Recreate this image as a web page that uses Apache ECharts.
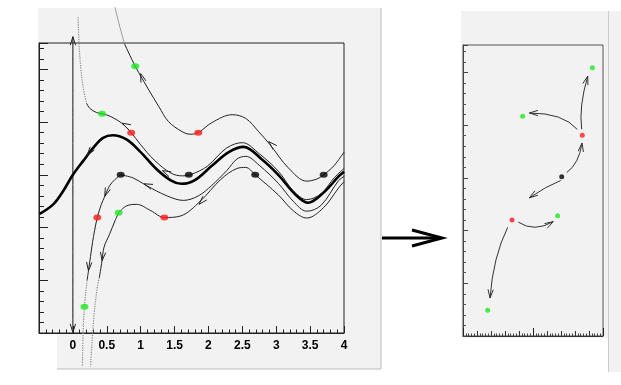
<!DOCTYPE html>
<html>
<head>
<meta charset="utf-8">
<script src="https://cdn.jsdelivr.net/npm/echarts@6/dist/echarts.min.js"></script>
<style>
html,body{margin:0;padding:0;background:#fff;}
#main{width:621px;height:385px;}
</style>
</head>
<body>
<div id="main"></div>
<script>
// left panel: solution curves, [x, y]
var thickCurve = [[-0.49,-0.74],[-0.29,-0.56],[-0.145,-0.31],[0,0],[0.15,0.26],[0.3,0.51],[0.445,0.7],[0.59,0.75],[0.79,0.67],[0.985,0.45],[1.24,0.1],[1.45,-0.11],[1.6,-0.17],[1.8,-0.1],[2.05,0.17],[2.3,0.43],[2.52,0.53],[2.79,0.29],[3.03,0],[3.28,-0.37],[3.47,-0.53],[3.72,-0.31],[3.92,-0.03],[4.0,0.06]];
var topCurveFaint = [[0.62,3.18],[0.69,2.82],[0.76,2.49]];
var topCurve = [[0.76,2.49],[0.92,2.06],[1.12,1.61],[1.27,1.29],[1.41,1.01],[1.61,0.82],[1.73,0.77],[1.85,0.8],[2.05,0.99],[2.35,1.14],[2.55,1.07],[2.74,0.82],[2.91,0.57],[3.18,0.13],[3.45,-0.12],[3.6,-0.08],[3.7,0],[3.85,0.17],[4.0,0.43]];
var upperCurveDotted = [[0.077,2.99],[0.09,2.49],[0.115,2.05],[0.15,1.67],[0.2,1.36]];
var upperCurve = [[0.2,1.36],[0.25,1.26],[0.35,1.18],[0.43,1.16],[0.55,1.11],[0.72,0.98],[0.86,0.8],[1.0,0.57],[1.2,0.28],[1.45,0.03],[1.62,-0.02],[1.75,0.01],[1.98,0.16],[2.27,0.51],[2.5,0.61],[2.75,0.4],[3.03,0.07],[3.25,-0.3],[3.45,-0.47],[3.66,-0.36],[3.86,-0.05],[4.0,0.12]];
var lowerLeft = [[0.705,0],[0.62,-0.09],[0.54,-0.21],[0.47,-0.41],[0.42,-0.56],[0.36,-0.81],[0.32,-1.06],[0.29,-1.28],[0.23,-1.82],[0.21,-2.0]];
var lowerLeftDotted = [[0.21,-2.0],[0.17,-2.5],[0.15,-3.01],[0.14,-3.64]];
var lowerRight = [[0.705,0],[0.89,-0.06],[1.08,-0.2],[1.39,-0.4],[1.63,-0.485],[1.85,-0.4],[2.05,-0.2],[2.27,0.08],[2.42,0.3],[2.55,0.35],[2.75,0.18],[3.03,-0.16],[3.25,-0.5],[3.45,-0.69],[3.66,-0.58],[3.92,-0.11],[4.0,-0.03]];
var bottomLeft = [[0.675,-0.72],[0.62,-0.875],[0.54,-1.13],[0.46,-1.37],[0.43,-1.63],[0.39,-1.95]];
var bottomLeftDotted = [[0.39,-1.95],[0.36,-2.13],[0.31,-2.69],[0.26,-3.64]];
var bottomRight = [[0.675,-0.72],[0.79,-0.59],[0.94,-0.56],[1.15,-0.68],[1.35,-0.81],[1.59,-0.78],[1.88,-0.5],[2.18,-0.09],[2.42,0.12],[2.55,0.14],[2.69,0],[3.03,-0.38],[3.25,-0.68],[3.45,-0.82],[3.7,-0.62],[3.92,-0.25],[4.0,-0.13]];
var yArrowLine = [[0,2.62],[0,-2.99]];

var greenLeft = [[0.92,2.06],[0.43,1.16],[0.675,-0.72],[0.17,-2.5]];
var redLeft = [[1.85,0.8],[0.86,0.8],[0.36,-0.81],[1.35,-0.81]];
var blackLeft = [[1.71,0],[0.705,0],[2.69,0],[3.7,0]];

// arrow heads on the curves: [x, y, dx, dy]
var leftHeads = [[1.0,1.92,-0.08,0.3],[2.89,0.63,-0.2,0.25],[0.725,0.98,-0.15,0.1],[1.32,0.08,-0.2,0.12],
  [0.21,0.37,-0.1,-0.17],[1.05,-0.17,-0.2,0.1],[0.47,-0.41,-0.06,-0.2],[0.23,-1.82,-0.02,-0.3],
  [1.86,-0.56,-0.3,-0.41],[0.43,-1.63,-0.03,-0.3],[0,2.62,0,1],[0,-2.99,0,-1]];

// right panel
var greenRight = [[9.24,5.09],[4.26,4.17],[6.76,2.28],[1.76,0.49]];
var redRight = [[8.52,3.81],[3.5,2.2]];
var blackRight = [[7.05,3.02]];
// curved arrows: [x0, y0, ctrlX, ctrlY, x1, y1]
var rightArrows = [[8.48,3.92,8.26,4.34,8.91,4.93],[8.16,3.92,7.16,4.23,4.74,4.23],[7.41,3.10,8.29,3.27,8.5,3.66],
  [6.98,2.95,5.93,2.84,4.74,2.62],[3.95,2.16,5.09,1.96,6.45,2.17],[3.19,2.06,2.15,1.5,1.93,0.72]];

var myChart = echarts.init(document.getElementById('main'));

function vHead(tip, ang, len, spread) {
  return [
    [tip[0] - len * Math.cos(ang - spread), tip[1] - len * Math.sin(ang - spread)],
    tip,
    [tip[0] - len * Math.cos(ang + spread), tip[1] - len * Math.sin(ang + spread)]
  ];
}

function curve(data, color, width, type) {
  return {
    type: 'line', xAxisIndex: 0, yAxisIndex: 0, data: data,
    smooth: 0.35, showSymbol: false, clip: false, silent: true,
    lineStyle: {color: color, width: width, type: type || 'solid'}, z: 3
  };
}

function dots(data, color, axis, size) {
  return {
    type: 'scatter', xAxisIndex: axis, yAxisIndex: axis, data: data,
    symbol: 'circle', symbolSize: size, itemStyle: {color: color}, z: 5
  };
}

var tickStyle = {color: '#222', width: 1};

var option = {
  animation: false,
  backgroundColor: '#fff',
  graphic: [
    {type: 'rect', z: -100, shape: {x: 38, y: 8, width: 343, height: 325}, style: {fill: '#f2f2f2'}},
    {type: 'rect', z: -100, shape: {x: 57, y: 333, width: 324, height: 36}, style: {fill: '#f2f2f2'}},
    {type: 'polyline', z: -99, shape: {points: [[381, 8], [381, 369], [57, 369]]}, style: {stroke: '#bbb', fill: null, lineWidth: 1}},
    {type: 'rect', z: -100, shape: {x: 461, y: 11, width: 147, height: 327}, style: {fill: '#f2f2f2'}},
    {type: 'rect', z: -100, shape: {x: 609, y: 11, width: 12, height: 361}, style: {fill: '#f2f2f2'}},
    {type: 'line', z: -99, shape: {x1: 608.5, y1: 11, x2: 608.5, y2: 372}, style: {stroke: '#ccc', lineWidth: 1}},
    {type: 'line', shape: {x1: 382, y1: 238, x2: 441, y2: 238}, style: {stroke: '#000', lineWidth: 3}},
    {type: 'polyline', shape: {points: [[412, 230], [442, 238], [412, 246]]}, style: {stroke: '#000', fill: null, lineWidth: 3}}
  ],
  grid: [
    {left: 39, top: 43, width: 305, height: 290, show: true, borderColor: '#222', borderWidth: 1, backgroundColor: 'transparent'},
    {left: 463, top: 45, width: 140, height: 291, show: true, borderColor: '#555', borderWidth: 1, backgroundColor: 'transparent'}
  ],
  xAxis: [
    {
      gridIndex: 0, type: 'value', min: -0.5, max: 4, interval: 0.5, position: 'bottom',
      axisLine: {onZero: false, lineStyle: tickStyle},
      axisTick: {inside: true, length: 7, lineStyle: tickStyle},
      minorTick: {show: true, splitNumber: 5, length: 3.5, lineStyle: tickStyle},
      splitLine: {show: false},
      axisLabel: {
        margin: 7, color: '#000', fontSize: 12, fontWeight: 'bold', fontFamily: 'Liberation Sans',
        formatter: function (v) { return v < 0 ? '' : String(v); }
      }
    },
    {
      gridIndex: 1, type: 'value', min: 0, max: 10, interval: 1, position: 'bottom',
      axisLine: {onZero: false, lineStyle: {color: '#333'}},
      axisTick: {inside: true, length: 5, lineStyle: {color: '#333'}},
      minorTick: {show: true, splitNumber: 5, length: 2.5, lineStyle: {color: '#444'}},
      splitLine: {show: false}, axisLabel: {show: false}
    },
    {
      gridIndex: 1, type: 'value', min: 0, max: 10, interval: 5, position: 'bottom',
      axisLine: {show: false, onZero: false},
      axisTick: {inside: true, length: 8, lineStyle: {color: '#222'}},
      splitLine: {show: false}, axisLabel: {show: false}
    }
  ],
  yAxis: [
    {
      gridIndex: 0, type: 'value', min: -3, max: 2.5, interval: 1, position: 'left',
      axisLine: {show: true, onZero: false, lineStyle: tickStyle},
      axisTick: {show: true, inside: true, length: 9, lineStyle: tickStyle},
      minorTick: {show: true, splitNumber: 5, length: 5, lineStyle: tickStyle},
      splitLine: {show: false}, axisLabel: {show: false}
    },
    {
      gridIndex: 1, type: 'value', min: 0, max: 5.52, interval: 1, position: 'left',
      axisLine: {show: true, onZero: false, lineStyle: {color: '#444'}},
      axisTick: {show: true, inside: true, length: 5, lineStyle: {color: '#444'}},
      minorTick: {show: true, splitNumber: 5, length: 3, lineStyle: {color: '#555'}},
      splitLine: {show: false}, axisLabel: {show: false}
    }
  ],
  series: [
    curve(yArrowLine, '#111', 1),
    curve(thickCurve, '#000', 2.6),
    curve(topCurveFaint, '#999', 1),
    curve(topCurve, '#222', 1),
    curve(upperCurveDotted, '#888', 1.2, 'dotted'),
    curve(upperCurve, '#222', 1),
    curve(lowerLeft, '#222', 1),
    curve(lowerLeftDotted, '#888', 1.2, 'dotted'),
    curve(lowerRight, '#222', 1),
    curve(bottomLeft, '#222', 1),
    curve(bottomLeftDotted, '#888', 1.2, 'dotted'),
    curve(bottomRight, '#222', 1),
    {
      type: 'custom', xAxisIndex: 0, yAxisIndex: 0, data: leftHeads, clip: false, silent: true, z: 4,
      renderItem: function (params, api) {
        var p = api.coord([api.value(0), api.value(1)]);
        var q = api.coord([api.value(0) + api.value(2), api.value(1) + api.value(3)]);
        var ang = Math.atan2(q[1] - p[1], q[0] - p[0]);
        return {type: 'polyline', shape: {points: vHead(p, ang, 9, 0.3)},
          style: {stroke: '#222', fill: null, lineWidth: 1}};
      }
    },
    dots(greenLeft, '#1ee81e', 0, [8, 6]),
    dots(redLeft, '#ff1a1a', 0, [8, 6]),
    dots(blackLeft, '#000', 0, [8, 6]),
    {
      type: 'custom', xAxisIndex: 1, yAxisIndex: 1, data: rightArrows, clip: false, silent: true, z: 4,
      renderItem: function (params, api) {
        var a = api.coord([api.value(0), api.value(1)]);
        var c = api.coord([api.value(2), api.value(3)]);
        var b = api.coord([api.value(4), api.value(5)]);
        var ang = Math.atan2(b[1] - c[1], b[0] - c[0]);
        return {
          type: 'group',
          children: [
            {type: 'bezierCurve', shape: {x1: a[0], y1: a[1], cpx1: c[0], cpy1: c[1], x2: b[0], y2: b[1]},
              style: {stroke: '#333', fill: null, lineWidth: 1}},
            {type: 'polyline', shape: {points: vHead(b, ang, 9, 0.3)},
              style: {stroke: '#333', fill: null, lineWidth: 1}}
          ]
        };
      }
    },
    dots(greenRight, '#1ee81e', 1, 5),
    dots(redRight, '#ff1a1a', 1, 5),
    dots(blackRight, '#000', 1, 5)
  ]
};

myChart.setOption(option);
</script>
</body>
</html>
